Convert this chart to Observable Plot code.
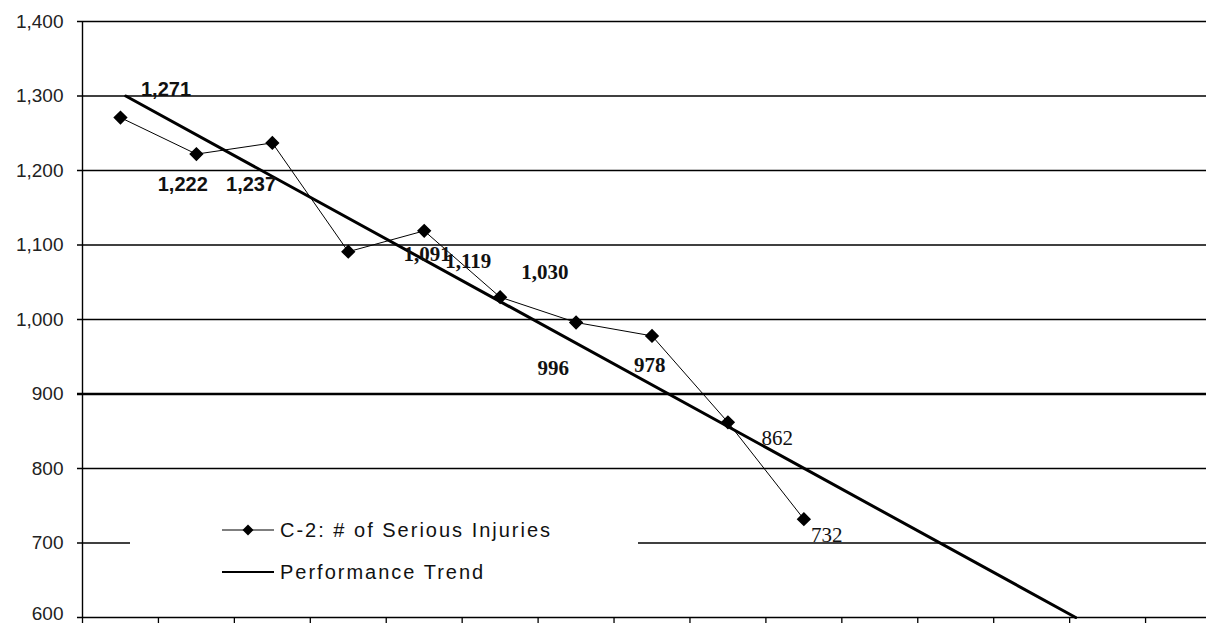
<!DOCTYPE html>
<html>
<head>
<meta charset="utf-8">
<script src="https://cdn.jsdelivr.net/npm/d3@7"></script>
<script src="https://cdn.jsdelivr.net/npm/@observablehq/plot@0.6"></script>
<style>
  html, body { margin: 0; padding: 0; background: #fff; overflow: hidden; }
  #wrap { position: relative; width: 1206px; height: 623px; }
  #legend { position: absolute; left: 130px; top: 500px; width: 508px; height: 104px; background: #fff;
            font-family: "Liberation Sans", Arial, sans-serif; font-size: 20px; color: #111; letter-spacing: 2px; }
  .row { position: absolute; left: 92px; height: 24px; display: flex; align-items: center; }
  .row span { margin-left: 6px; line-height: 24px; }
</style>
</head>
<body>
<div id="wrap"></div>
<script>
// ---- data ----
const periods = [0, 1, 2, 3, 4, 5, 6, 7, 8, 9];
const injuries = [1271, 1222, 1237, 1091, 1119, 1030, 996, 978, 862, 732];
const labelText = ["1,271", "1,222", "1,237", "1,091", "1,119", "1,030", "996", "978", "862", "732"];
// label anchor positions (period index, value)
const labelPeriod = [0.60, 0.82, 1.72, 4.04, 4.58, 5.59, 5.70, 6.97, 8.65, 9.30];
const labelValue = [1309, 1181, 1181, 1087, 1078, 1064, 935, 938, 841, 710];
// performance trend endpoints (period, value)
const trendPeriod = [0.07, 12.58];
const trendValue = [1300, 600];
const yTicks = [600, 700, 800, 900, 1000, 1100, 1200, 1300, 1400];
const xBoundaries = [-0.5, 0.5, 1.5, 2.5, 3.5, 4.5, 5.5, 6.5, 7.5, 8.5, 9.5, 10.5, 11.5, 12.5, 13.5, 14.5];

const series = periods.map((p, i) => ({p, v: injuries[i]}));
const labels = labelText.map((t, i) => ({t, p: labelPeriod[i], v: labelValue[i], i}));
const trend = trendPeriod.map((p, i) => ({p, v: trendValue[i]}));

const chart = Plot.plot({
  width: 1206,
  height: 623,
  marginLeft: 82, marginRight: 0, marginTop: 21, marginBottom: 6,
  style: {background: "#fff", overflow: "hidden", fontFamily: "'Liberation Sans', Arial, sans-serif"},
  x: {type: "linear", domain: [-0.5, 14.5], range: [82, 1221], axis: null},
  y: {type: "linear", domain: [600, 1400], range: [617, 21], axis: null},
  marks: [
    Plot.ruleY(yTicks, {x1: -0.566, x2: 14.5, stroke: "#000", strokeWidth: d => d === 900 ? 2.4 : 1.6}),
    Plot.ruleX([-0.5], {y1: 600, y2: 1400, stroke: "#000", strokeWidth: 1.4}),
    Plot.ruleX(xBoundaries, {y1: 600, y2: 590, stroke: "#000", strokeWidth: 1.3}),
    Plot.text(yTicks.filter(d => d > 600), {x: -0.5, y: d => d, text: d => d3.format(",")(d), textAnchor: "end", dx: -19,
      fontSize: 19, fill: "#222"}),
    Plot.text([600], {x: -0.5, y: d => d, text: d => d3.format(",")(d), textAnchor: "end", dx: -19, dy: -4,
      fontSize: 19, fill: "#222"}),
    Plot.line(series, {x: "p", y: "v", stroke: "#000", strokeWidth: 1}),
    Plot.line(trend, {x: "p", y: "v", stroke: "#000", strokeWidth: 3}),
    Plot.dot(series, {x: "p", y: "v", symbol: "diamond2", r: 5.5, fill: "#000", stroke: "#000"}),
    Plot.text(labels.filter(d => d.i < 3), {x: "p", y: "v", text: "t", fontSize: 20, fontWeight: "bold", fill: "#111"}),
    Plot.text(labels.filter(d => d.i >= 3 && d.i < 8), {x: "p", y: "v", text: "t", fontSize: 21, fontWeight: "bold", fill: "#111",
      fontFamily: "'Liberation Serif', 'Times New Roman', serif"}),
    Plot.text(labels.filter(d => d.i >= 8), {x: "p", y: "v", text: "t", fontSize: 21, fill: "#111",
      fontFamily: "'Liberation Serif', 'Times New Roman', serif"})
  ]
});

const wrap = document.getElementById("wrap");
wrap.appendChild(chart);

const legend = document.createElement("div");
legend.id = "legend";
legend.innerHTML = `
  <div class="row" style="top:18px">
    <svg width="52" height="12"><line x1="0" y1="6" x2="52" y2="6" stroke="#000" stroke-width="1.2"/>
      <path d="M26,0.5 L31.5,6 L26,11.5 L20.5,6 Z" fill="#000"/></svg>
    <span>C-2: # of Serious Injuries</span>
  </div>
  <div class="row" style="top:60px">
    <svg width="52" height="12"><line x1="0" y1="6" x2="52" y2="6" stroke="#000" stroke-width="2.2"/></svg>
    <span>Performance Trend</span>
  </div>`;
wrap.appendChild(legend);
</script>
</body>
</html>
